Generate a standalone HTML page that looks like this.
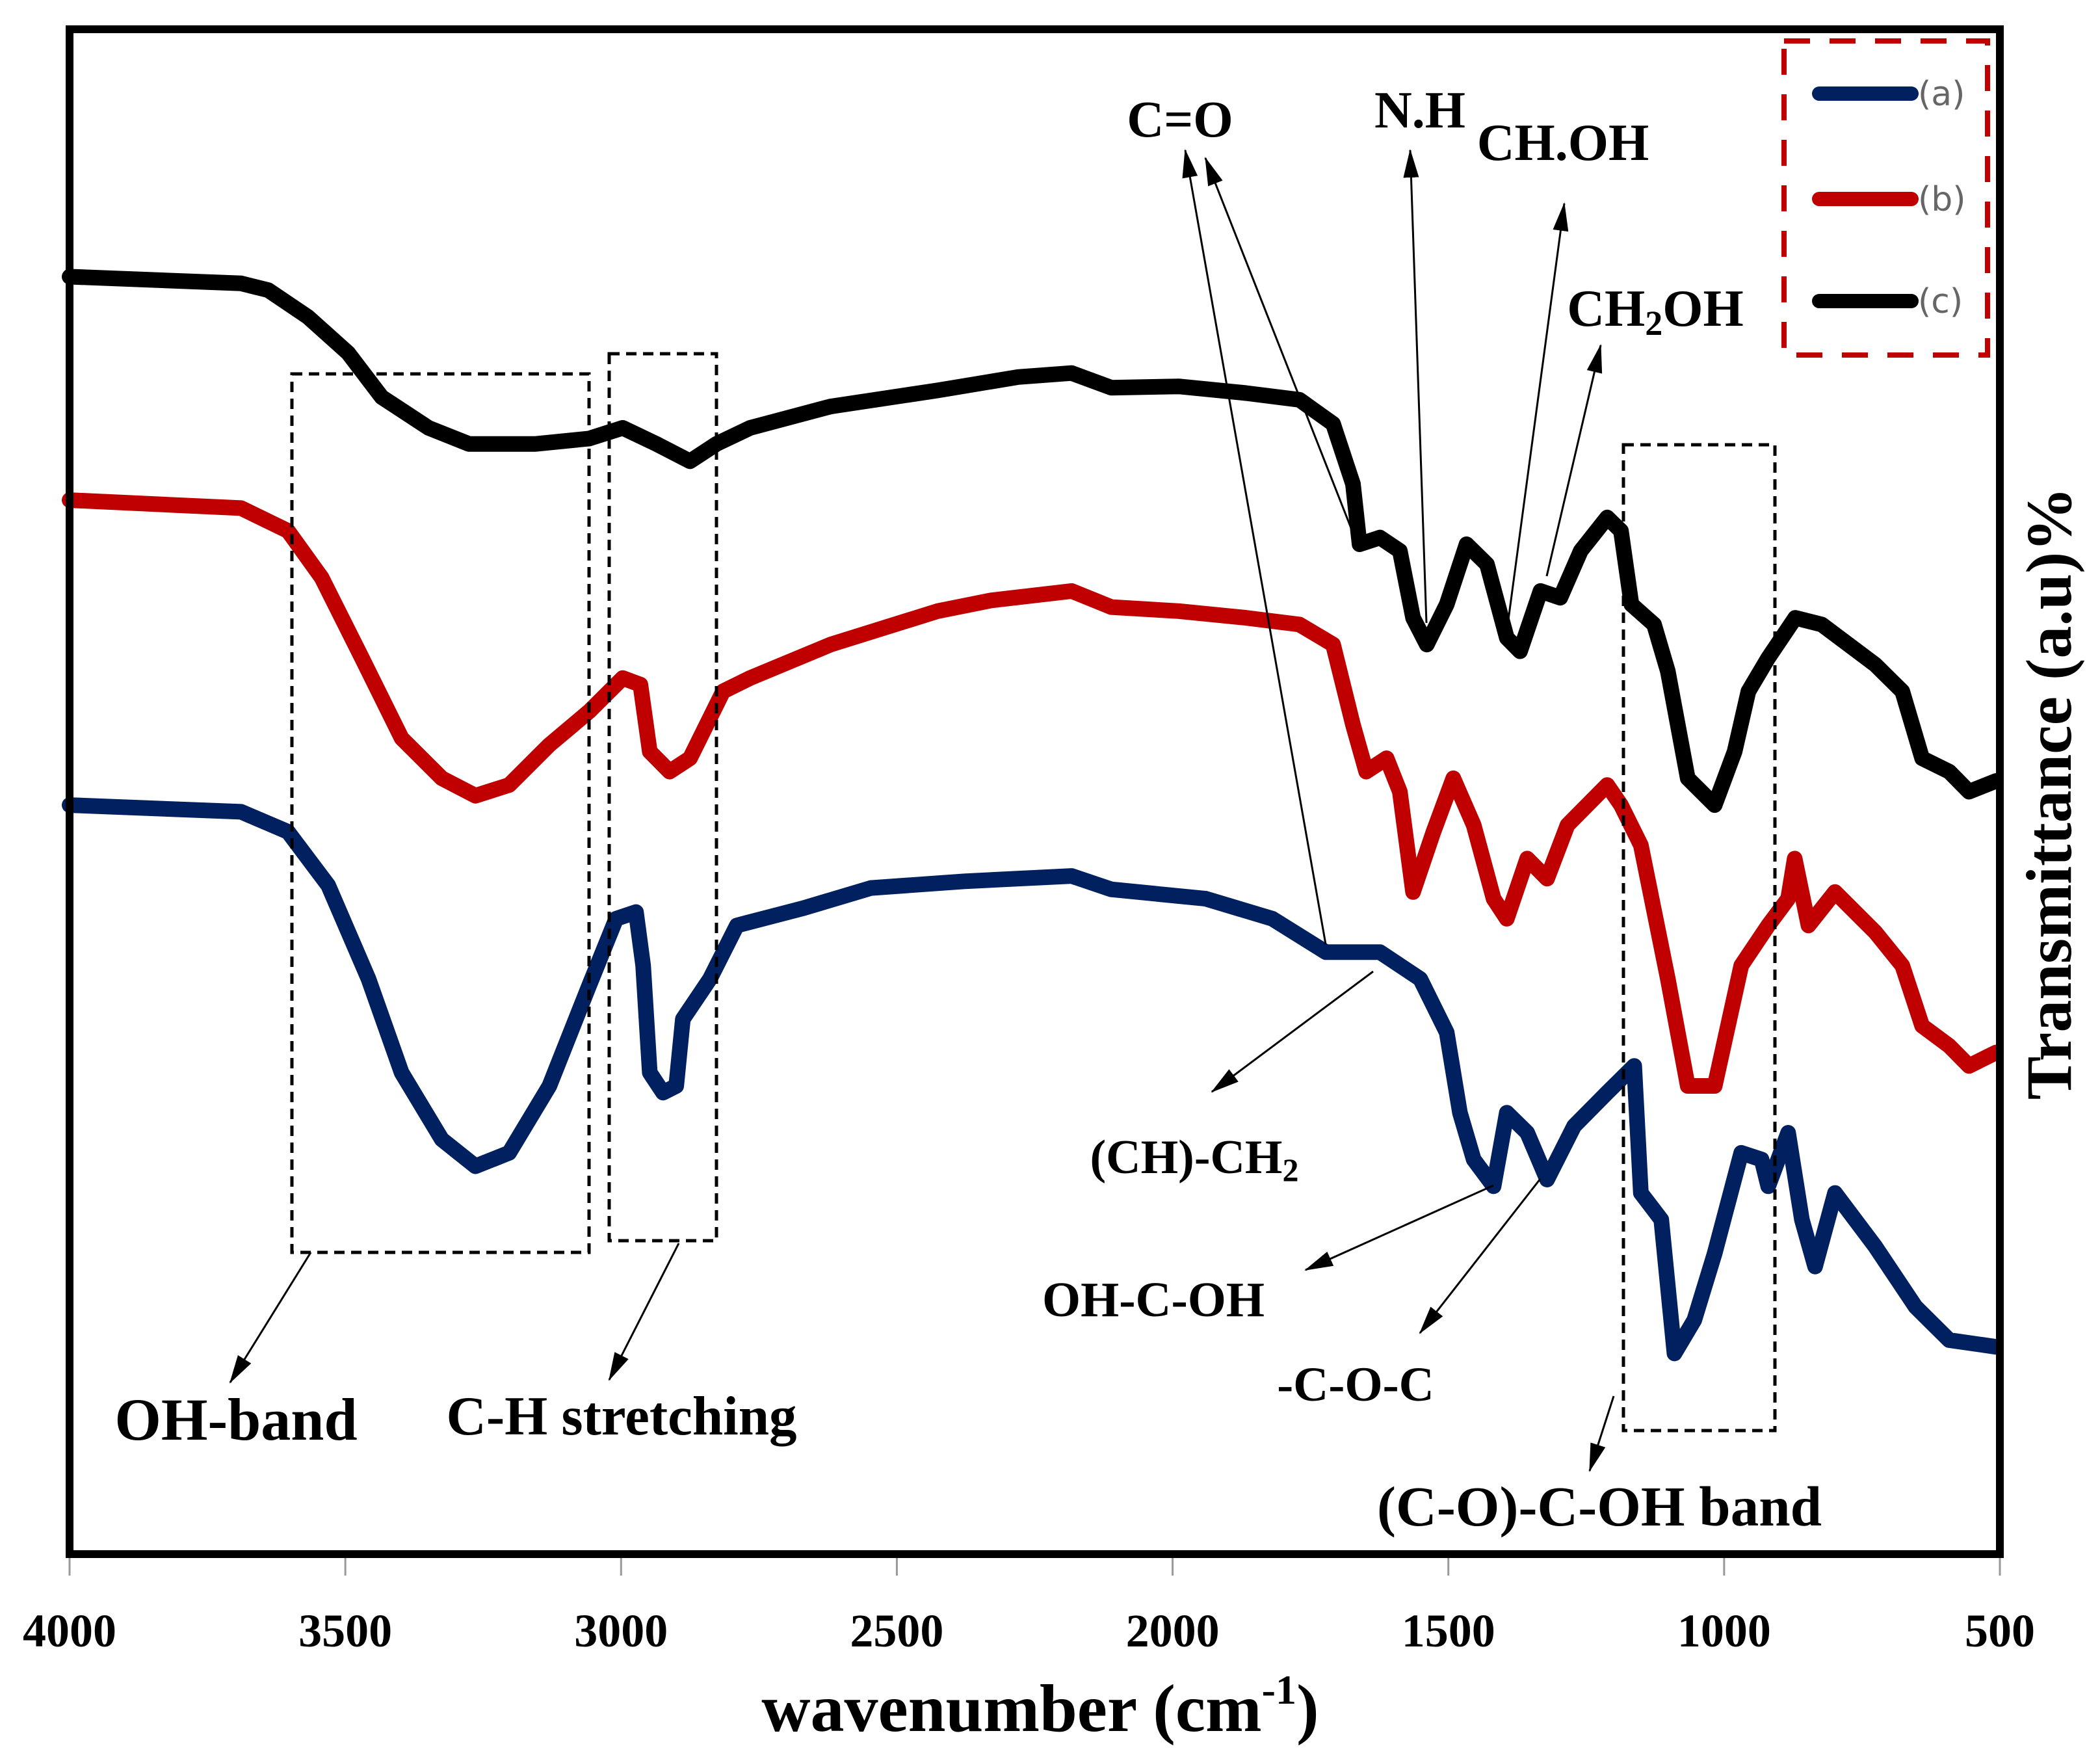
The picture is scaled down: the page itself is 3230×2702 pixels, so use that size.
<!DOCTYPE html>
<html><head><meta charset="utf-8"><style>
html,body{margin:0;padding:0;background:#fff;}
svg{display:block;}
text{font-family:"Liberation Serif",serif;font-weight:bold;fill:#000;}
</style></head><body>
<svg id="chart" width="3230" height="2702" viewBox="0 0 3230 2702" xmlns="http://www.w3.org/2000/svg">
<defs><marker id="ah" markerWidth="44" markerHeight="30" refX="42" refY="15" orient="auto" markerUnits="userSpaceOnUse" viewBox="0 0 44 30"><path d="M0,3 L44,15 L0,27 z" fill="#000"/></marker></defs>
<g id="marks"></g>
<rect x="107" y="45" width="2969" height="2345" fill="none" stroke="#000" stroke-width="12"/>
<g id="ticks" font-size="72"></g>
<text x="1600" y="2662" font-size="104" text-anchor="middle">wavenumber (cm<tspan font-size="64" dy="-42">-1</tspan><tspan dy="42">)</tspan></text>
<text transform="translate(3185,1220) rotate(-90)" font-size="100" text-anchor="middle">Transmittance (a.u)%</text>
<g>
<rect x="2744" y="63" width="313" height="483" fill="none" stroke="#c00000" stroke-width="8" stroke-dasharray="40 30"/>
<line x1="2798" y1="144" x2="2940" y2="144" stroke="#002060" stroke-width="22" stroke-linecap="round"/>
<text x="2950" y="162" font-size="52" style="font-family:'DejaVu Sans',sans-serif;font-weight:normal;fill:#666">(a)</text>
<line x1="2798" y1="306" x2="2940" y2="306" stroke="#c00000" stroke-width="22" stroke-linecap="round"/>
<text x="2950" y="324" font-size="52" style="font-family:'DejaVu Sans',sans-serif;font-weight:normal;fill:#666">(b)</text>
<line x1="2798" y1="463" x2="2940" y2="463" stroke="#000" stroke-width="22" stroke-linecap="round"/>
<text x="2950" y="481" font-size="52" style="font-family:'DejaVu Sans',sans-serif;font-weight:normal;fill:#666">(c)</text>
</g>
<g stroke="#000" stroke-width="3" fill="none">
<rect x="449" y="575" width="457" height="1351" stroke-width="5" stroke-dasharray="16 10"/>
<rect x="937" y="544" width="165" height="1364" stroke-width="5" stroke-dasharray="16 10"/>
<rect x="2497" y="684" width="233" height="1516" stroke-width="5" stroke-dasharray="16 10"/>
<line x1="2091" y1="845" x2="1854" y2="243" marker-end="url(#ah)"/>
<line x1="2039" y1="1452" x2="1823" y2="231" marker-end="url(#ah)"/>
<line x1="2194" y1="958" x2="2169" y2="231" marker-end="url(#ah)"/>
<line x1="2318" y1="968" x2="2406" y2="313" marker-end="url(#ah)"/>
<line x1="2379" y1="886" x2="2462" y2="531" marker-end="url(#ah)"/>
<line x1="2112" y1="1494" x2="1864" y2="1679" marker-end="url(#ah)"/>
<line x1="2297" y1="1823" x2="2008" y2="1953" marker-end="url(#ah)"/>
<line x1="2369" y1="1813" x2="2184" y2="2050" marker-end="url(#ah)"/>
<line x1="478" y1="1926" x2="354" y2="2126" marker-end="url(#ah)"/>
<line x1="1044" y1="1912" x2="937" y2="2122" marker-end="url(#ah)"/>
<line x1="2482" y1="2147" x2="2445" y2="2262" marker-end="url(#ah)"/>
</g>
<text x="1815" y="210" font-size="79" text-anchor="middle">C=O</text>
<text x="2184" y="196" font-size="80" text-anchor="middle">N.H</text>
<text x="2404" y="246" font-size="80" text-anchor="middle">CH.OH</text>
<text x="2546" y="501" font-size="80" text-anchor="middle">CH<tspan font-size="54" dy="14">2</tspan><tspan dy="-14">OH</tspan></text>
<text x="1837" y="1804" font-size="74" text-anchor="middle">(CH)-CH<tspan font-size="50" dy="12">2</tspan></text>
<text x="1774" y="2024" font-size="76" text-anchor="middle">OH-C-OH</text>
<text x="2085" y="2154" font-size="75" text-anchor="middle">-C-O-C</text>
<text x="363" y="2214" font-size="92" text-anchor="middle">OH-band</text>
<text x="956" y="2206" font-size="85" text-anchor="middle">C-H stretching</text>
<text x="2460" y="2346" font-size="87" text-anchor="middle">(C-O)-C-OH band</text>
</svg>
<script>
const xTicks = [4000,3500,3000,2500,2000,1500,1000,500];
const wnA = [4000,3689,3604,3531,3458,3398,3325,3264,3203,3130,3058,3009,2973,2960,2948,2924,2900,2888,2839,2790,2669,2547,2377,2183,2111,1940,1819,1722,1624,1551,1503,1479,1454,1418,1394,1357,1321,1272,1212,1163,1151,1114,1090,1054,1017,969,932,920,884,859,835,799,726,653,592,507];
const valA = [560,555,540,500,430,360,310,290,300,350,425,475,480,440,360,345,350,400,430,470,483,498,503,507,497,490,475,450,450,430,390,330,295,275,330,315,280,320,345,365,270,250,150,175,225,300,295,275,315,250,215,270,230,185,160,155];
const wnB = [4000,3689,3604,3543,3470,3398,3325,3264,3203,3130,3058,2997,2965,2948,2912,2875,2815,2766,2620,2426,2329,2183,2111,1989,1867,1770,1709,1673,1649,1612,1588,1564,1527,1491,1454,1418,1394,1357,1321,1284,1212,1187,1151,1102,1066,1017,969,920,884,872,847,799,726,677,641,592,556,507];
const valB = [788,782,765,730,670,610,580,567,575,605,630,655,650,600,585,595,645,655,680,705,713,720,708,705,700,695,680,620,585,595,570,495,540,580,545,490,475,520,505,545,575,560,530,430,350,350,440,470,490,520,470,495,465,440,395,380,365,375];
const wnC = [4000,3689,3640,3568,3495,3434,3349,3276,3155,3058,2997,2936,2875,2827,2766,2620,2426,2280,2183,2111,1989,1867,1770,1709,1673,1661,1624,1588,1564,1539,1503,1467,1430,1394,1370,1333,1297,1260,1212,1187,1168,1127,1102,1066,1017,981,956,920,871,823,726,677,641,592,556,507];
const valC = [955,950,945,925,898,865,842,830,830,834,842,830,817,830,842,858,870,880,883,872,873,868,863,845,800,755,760,750,700,680,710,755,740,685,675,720,715,750,775,765,710,695,660,580,560,600,645,670,700,695,665,645,595,585,570,578];
const X0=107, X1=3076, YB=2390, YT=45;
function xs(w){return X0+(4000-w)/3500*(X1-X0);}
function ys(v){return YB-v*(YB-YT)/1140;}
const NS="http://www.w3.org/2000/svg";
const marks=document.getElementById('marks');
function draw(wn,val,color,name){
  const p=document.createElementNS(NS,'polyline');
  p.setAttribute('points',wn.map((w,i)=>xs(w).toFixed(1)+','+ys(val[i]).toFixed(1)).join(' '));
  p.setAttribute('fill','none');p.setAttribute('stroke',color);p.setAttribute('stroke-width','24');
  p.setAttribute('stroke-linejoin','round');p.setAttribute('stroke-linecap','round');
  
  
  marks.appendChild(p);
}
draw(wnC,valC,'#000000','series-c-line');
draw(wnB,valB,'#c00000','series-b-line');
draw(wnA,valA,'#002060','series-a-line');
const tg=document.getElementById('ticks');
xTicks.forEach(t=>{
  const l=document.createElementNS(NS,'line');
  l.setAttribute('x1',xs(t));l.setAttribute('x2',xs(t));l.setAttribute('y1',2396);l.setAttribute('y2',2423);
  l.setAttribute('stroke','#999');l.setAttribute('stroke-width','3');
  
  
  tg.appendChild(l);
  const tx=document.createElementNS(NS,'text');
  tx.setAttribute('x',xs(t));tx.setAttribute('y',2532);tx.setAttribute('text-anchor','middle');
  tx.textContent=t;
  
  
  tg.appendChild(tx);
});
</script>
</body></html>
